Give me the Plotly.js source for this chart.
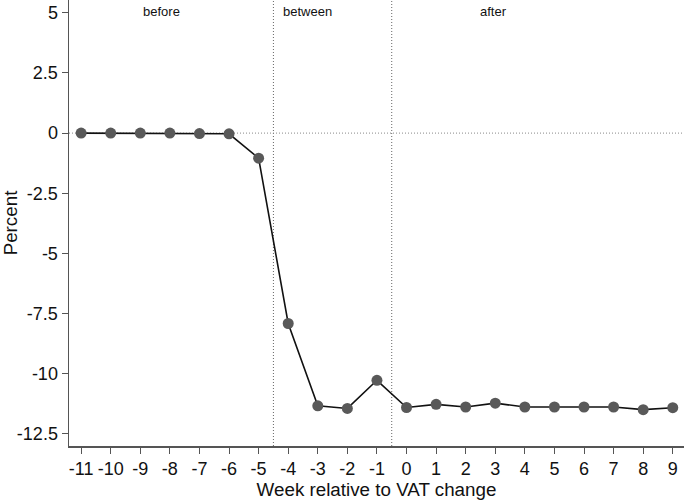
<!DOCTYPE html>
<html>
<head>
<meta charset="utf-8">
<script src="https://cdn.plot.ly/plotly-3.0.1.min.js"></script>
<style>html,body{margin:0;padding:0;background:#fff}#chart{width:685px;height:503px}</style>
</head>
<body>
<div id="chart"></div>
<script>
const weeks = [-11,-10,-9,-8,-7,-6,-5,-4,-3,-2,-1,0,1,2,3,4,5,6,7,8,9];
const percent = [0,0,0,0,-0.02,-0.03,-1.04,-7.91,-11.33,-11.44,-10.27,-11.40,-11.27,-11.38,-11.22,-11.38,-11.38,-11.38,-11.38,-11.49,-11.41];
const yTickVals = [5,2.5,0,-2.5,-5,-7.5,-10,-12.5];
const yTickText = ["5","2.5","0","-2.5","-5","-7.5","-10","-12.5"];
const xTickVals = weeks;
const xTickText = weeks.map(w => String(w));
const periodLabels = ["before","between","after"];
const periodLabelX = [-8.28,-3.36,2.93];
const periodBounds = [-4.5,-0.5];

const xRange = [-11.41, 9.38];
const yRange = [-13.0, 5.53];
const font = "Liberation Sans, Arial, sans-serif";

const shapes = periodBounds.map(b => ({
  type:'line', xref:'x', yref:'paper', x0:b, x1:b, y0:0, y1:1,
  line:{color:'#666', width:1, dash:'1px,2px'}, layer:'below'
}));
shapes.push({type:'line', xref:'paper', yref:'y', x0:0, x1:1, y0:0, y1:0,
  line:{color:'#888', width:1, dash:'1px,2px'}, layer:'below'});

const annotations = periodLabels.map((t,i) => ({
  x: periodLabelX[i], y: 5.07, xref:'x', yref:'y', text:t, showarrow:false,
  font:{family:font, size:13, color:'#111'}
}));

Plotly.newPlot('chart', [{
  x: weeks, y: percent, type:'scatter', mode:'lines+markers',
  line:{color:'#111', width:1.6},
  marker:{color:'#595959', size:11},
  cliponaxis:false
}], {
  width:685, height:503,
  margin:{l:69, r:1, t:0, b:57},
  paper_bgcolor:'#fff', plot_bgcolor:'#fff',
  showlegend:false,
  font:{family:font, color:'#111'},
  xaxis:{
    range:xRange, tickvals:xTickVals, ticktext:xTickText,
    showgrid:false, zeroline:false, showline:true, linecolor:'#555', linewidth:1.5,
    ticks:'outside', ticklen:6, tickcolor:'#555', tickwidth:1,
    tickfont:{family:font, size:18, color:'#111'},
    title:{text:'Week relative to VAT change', font:{family:font, size:18.8, color:'#111'}, standoff:3}
  },
  yaxis:{
    range:yRange, tickvals:yTickVals, ticktext:yTickText,
    showgrid:false, zeroline:false, showline:true, linecolor:'#555', linewidth:1.5,
    ticks:'outside', ticklen:6, tickcolor:'#555', tickwidth:1,
    tickfont:{family:font, size:18, color:'#111'},
    title:{text:'Percent', font:{family:font, size:18.8, color:'#111'}, standoff:4}
  },
  shapes: shapes,
  annotations: annotations
}, {displayModeBar:false, staticPlot:true});
</script>
</body>
</html>
